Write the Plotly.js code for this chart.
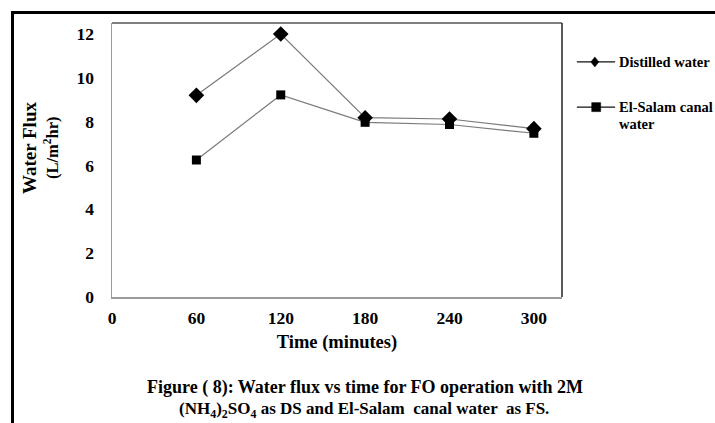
<!DOCTYPE html>
<html>
<head>
<meta charset="utf-8">
<script src="https://cdn.plot.ly/plotly-3.0.1.min.js"></script>
<style>
  html, body { margin: 0; padding: 0; background: #fff; }
  #wrap { position: relative; width: 715px; height: 423px; overflow: hidden; }
  #chart { width: 715px; height: 423px; }
  #frame { position: absolute; left: 11px; top: 11px; width: 720px; height: 430px;
           border-left: 3px solid #000; border-top: 3px solid #000; pointer-events: none; }
</style>
</head>
<body>
<div id="wrap">
  <div id="chart"></div>
  <div id="frame"></div>
</div>
<script>
// Sampling times (minutes)
const timeMin = [60, 120, 180, 240, 300];
// Water flux (L/m2 hr) for each feed solution
const distilledFlux = [9.2, 12.0, 8.18, 8.12, 7.68];
const elSalamFlux = [6.25, 9.22, 7.97, 7.87, 7.47];
const seriesNames = ['Distilled water', 'El-Salam canal', 'water'];
const xTicks = [0, 60, 120, 180, 240, 300];
const yTicks = [0, 2, 4, 6, 8, 10, 12];

const serif = 'Liberation Serif, Times New Roman, serif';
const bold = (t) => '<b>' + t + '</b>';

const traces = [
  {
    x: timeMin, y: distilledFlux, name: seriesNames[0], type: 'scatter', mode: 'lines+markers',
    line: { color: '#7a7a7a', width: 1.2 },
    marker: { symbol: 'diamond', size: 12, color: '#000' }
  },
  {
    x: timeMin, y: elSalamFlux, name: seriesNames[1], type: 'scatter', mode: 'lines+markers',
    line: { color: '#7a7a7a', width: 1.2 },
    marker: { symbol: 'square', size: 9, color: '#000' }
  }
];

// legend key rows, placed to the right of the plot box (paper coordinates)
const keyLineX = [1.033, 1.118];
const keyRowY = [0.858, 0.693];
const keyMarkX = [1.073, 1.076];
const keyTextX = 1.122;

const layout = {
  width: 715, height: 423,
  margin: { l: 112, r: 153, t: 23, b: 126 },
  paper_bgcolor: '#fff', plot_bgcolor: '#fff',
  font: { family: serif, color: '#000' },
  showlegend: false,
  xaxis: {
    range: [0, 320], tickvals: xTicks, ticktext: xTicks.map(v => bold(v)),
    showgrid: false, zeroline: false, showline: true, linecolor: '#9a9a9a', linewidth: 1.5,
    ticks: '', ticklabelstandoff: 4,
    tickfont: { family: serif, size: 17.5 },
    title: { text: bold('Time (minutes)'), font: { family: serif, size: 18.5 }, standoff: 8 }
  },
  yaxis: {
    range: [0, 12.5], tickvals: yTicks, ticktext: yTicks.map(v => bold(v)),
    showgrid: false, zeroline: false, showline: true, linecolor: '#9a9a9a', linewidth: 1.5,
    ticks: '', ticklabelstandoff: 13,
    tickfont: { family: serif, size: 17.5 },
    title: { text: '' }
  },
  shapes: [
    // top and right edges of the plot box
    { type: 'line', xref: 'paper', yref: 'paper', x0: 0, x1: 1, y0: 1, y1: 1, line: { color: '#555', width: 1.5 } },
    { type: 'line', xref: 'paper', yref: 'paper', x0: 1, x1: 1, y0: 0, y1: 1, line: { color: '#222', width: 1.5 } },
    // legend keys
    { type: 'line', xref: 'paper', yref: 'paper', x0: keyLineX[0], x1: keyLineX[1], y0: keyRowY[0], y1: keyRowY[0], line: { color: '#111', width: 1.2 } },
    { type: 'path', xref: 'paper', yref: 'paper', xsizemode: 'pixel', ysizemode: 'pixel',
      xanchor: keyMarkX[0], yanchor: keyRowY[0], path: 'M0,5 L4,0 L0,-5 L-4,0 Z',
      fillcolor: '#000', line: { color: '#000', width: 0.5 } },
    { type: 'line', xref: 'paper', yref: 'paper', x0: keyLineX[0], x1: keyLineX[1], y0: keyRowY[1], y1: keyRowY[1], line: { color: '#111', width: 1.2 } },
    { type: 'path', xref: 'paper', yref: 'paper', xsizemode: 'pixel', ysizemode: 'pixel',
      xanchor: keyMarkX[1], yanchor: keyRowY[1], path: 'M-4.5,-4.5 L4.5,-4.5 L4.5,4.5 L-4.5,4.5 Z',
      fillcolor: '#000', line: { color: '#000', width: 0.5 } }
  ],
  annotations: [
    // y axis title, two rotated lines
    { xref: 'paper', yref: 'paper', x: -0.182, y: 0.544, xanchor: 'center', yanchor: 'middle',
      textangle: -90, showarrow: false, font: { family: serif, size: 19 }, text: bold('Water Flux') },
    { xref: 'paper', yref: 'paper', x: -0.133, y: 0.544, xanchor: 'center', yanchor: 'middle',
      textangle: -90, showarrow: false, font: { family: serif, size: 16.5 }, text: bold('(L/m<sup>2</sup>hr)') },
    // legend labels
    { xref: 'paper', yref: 'paper', x: keyTextX, y: keyRowY[0], xanchor: 'left', yanchor: 'middle',
      showarrow: false, font: { family: serif, size: 14.5 }, text: bold(seriesNames[0]) },
    { xref: 'paper', yref: 'paper', x: keyTextX, y: keyRowY[1], xanchor: 'left', yanchor: 'middle',
      showarrow: false, font: { family: serif, size: 14.5 }, text: bold(seriesNames[1]) },
    { xref: 'paper', yref: 'paper', x: keyTextX, y: 0.631, xanchor: 'left', yanchor: 'middle',
      showarrow: false, font: { family: serif, size: 14.5 }, text: bold(seriesNames[2]) },
    // figure caption
    { xref: 'paper', yref: 'paper', x: 0.562, y: -0.332, xanchor: 'center', yanchor: 'middle',
      showarrow: false, font: { family: serif, size: 18 },
      text: bold('Figure ( 8): Water flux vs time for FO operation with 2M') },
    { xref: 'paper', yref: 'paper', x: 0.56, y: -0.414, xanchor: 'center', yanchor: 'middle',
      showarrow: false, font: { family: serif, size: 17 },
      text: bold('(NH<sub>4</sub>)<sub>2</sub>SO<sub>4</sub> as DS and El-Salam  canal water  as FS.') }
  ]
};

Plotly.newPlot('chart', traces, layout, { displayModeBar: false, staticPlot: true });
</script>
</body>
</html>
